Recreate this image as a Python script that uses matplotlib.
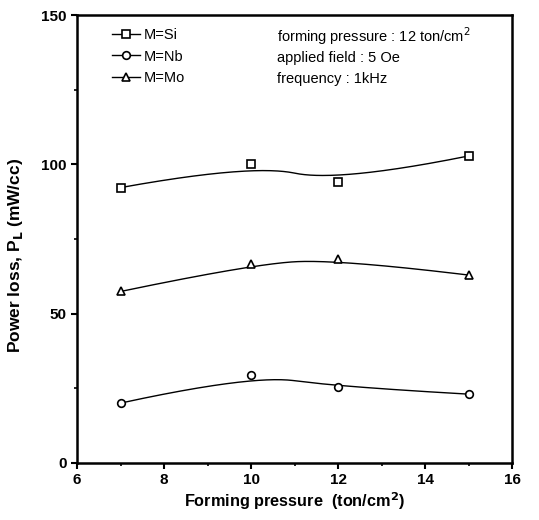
import numpy as np
import matplotlib.pyplot as plt
from matplotlib.ticker import MultipleLocator

plt.rcParams['font.family'] = ['Liberation Sans', 'DejaVu Sans']

# forming pressure (ton/cm^2) and power loss (mW/cc)
pressure = [7, 10, 12, 15]
loss_si = [92.2, 100.1, 94.0, 102.8]
loss_nb = [20.0, 29.5, 25.5, 23.0]
loss_mo = [57.4, 66.5, 68.2, 62.9]


def bspline(px, py, n=200):
    # clamped quadratic B-spline using the data points as control points
    px = np.asarray(px, float)
    py = np.asarray(py, float)
    k = 2
    m = len(px)
    inner = np.linspace(0, 1, m - k + 1)[1:-1]
    knots = np.concatenate([np.zeros(k + 1), inner, np.ones(k + 1)])
    t = np.linspace(0, 1 - 1e-9, n)

    def basis(i, d):
        if d == 0:
            return ((knots[i] <= t) & (t < knots[i + 1])).astype(float)
        out = np.zeros_like(t)
        if knots[i + d] > knots[i]:
            out += (t - knots[i]) / (knots[i + d] - knots[i]) * basis(i, d - 1)
        if knots[i + d + 1] > knots[i + 1]:
            out += (knots[i + d + 1] - t) / (knots[i + d + 1] - knots[i + 1]) * basis(i + 1, d - 1)
        return out

    B = np.array([basis(i, k) for i in range(m)])
    return B.T @ px, B.T @ py


fig = plt.figure(figsize=(5.39, 5.20), dpi=100)
ax = fig.add_axes([0.143, 0.110, 0.807, 0.861])

series = [(loss_si, 's', 'M=Si'), (loss_nb, 'o', 'M=Nb'), (loss_mo, '^', 'M=Mo')]
for vals, mk, lab in series:
    sx, sy = bspline(pressure, vals)
    ax.plot(sx, sy, color='black', lw=1.0)
    ax.plot(pressure, vals, linestyle='none', marker=mk, ms=5.5, mfc='white',
            mec='black', mew=1.2)
    # legend handle: line with marker
    ax.plot([], [], color='black', lw=1.0, marker=mk, ms=5.5, mfc='white',
            mec='black', mew=1.2, label=lab)

leg = ax.legend(loc='upper left', bbox_to_anchor=(0.06, 0.99), frameon=False,
                fontsize=10.5, handlelength=1.9, handletextpad=0.3,
                labelspacing=0.5, borderaxespad=0.2)

ax.text(0.46, 0.953, 'forming pressure : 12 ton/cm$^2$', transform=ax.transAxes,
        fontsize=10.5, va='center')
ax.text(0.46, 0.905, 'applied field : 5 Oe', transform=ax.transAxes,
        fontsize=10.5, va='center')
ax.text(0.46, 0.858, 'frequency : 1kHz', transform=ax.transAxes,
        fontsize=10.5, va='center')

ax.set_xlim(6, 16)
ax.set_ylim(0, 150)
ax.xaxis.set_major_locator(MultipleLocator(2))
ax.xaxis.set_minor_locator(MultipleLocator(1))
ax.yaxis.set_major_locator(MultipleLocator(50))
ax.yaxis.set_minor_locator(MultipleLocator(25))
ax.tick_params(which='major', direction='out', length=4, width=1.5,
               labelsize=11)
ax.tick_params(which='minor', direction='out', length=2.5, width=1.2)
for lbl in ax.get_xticklabels() + ax.get_yticklabels():
    lbl.set_fontweight('bold')
for sp in ax.spines.values():
    sp.set_linewidth(1.8)

ax.set_xlabel('Forming pressure  (ton/cm$^\\mathbf{2}$)', fontsize=11.7,
              fontweight='bold', labelpad=2)
ax.set_ylabel('Power loss, P$_\\mathbf{L}$ (mW/cc)', fontsize=12.5,
              fontweight='bold')
ax.yaxis.set_label_coords(-0.12, 0.464)

fig.savefig('out.png', dpi=100)
